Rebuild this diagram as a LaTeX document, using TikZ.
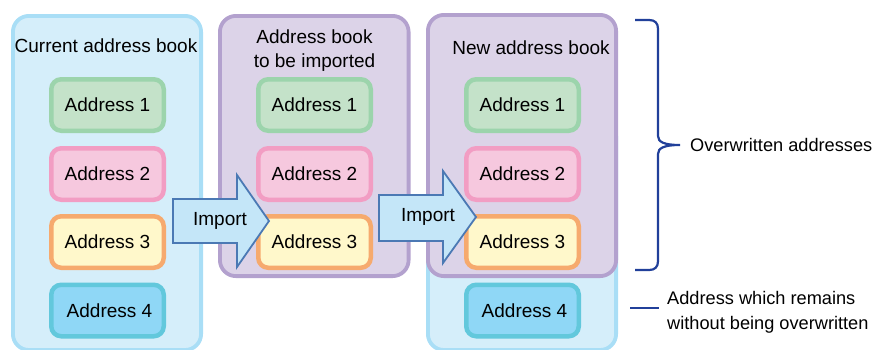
\documentclass[tikz,border=0pt]{standalone}
\usepackage{fontspec}
\setmainfont{Liberation Sans}
\begin{document}
\begin{tikzpicture}[x=1pt,y=-1pt,
  every node/.style={font=\fontsize{19}{24}\selectfont, inner sep=0pt},
  sidetext/.style={font=\fontsize{18.2}{24.5}\selectfont, anchor=west, align=left},
  bigblue/.style={draw=bluebd, fill=bluefill, line width=3.8pt, rounded corners=16pt},
  bigpurple/.style={draw=purpbd, fill=purpfill, line width=3.8pt, rounded corners=16pt},
  addr/.style={line width=4.5pt, rounded corners=10pt, minimum width=112.5pt, minimum height=51.5pt},
  aone/.style={addr, draw=aonebd, fill=aonefill},
  atwo/.style={addr, draw=atwobd, fill=atwofill},
  athree/.style={addr, draw=athreebd, fill=athreefill},
  afour/.style={addr, draw=afourbd, fill=afourfill},
  imparrow/.style={draw=arrbd, fill=arrfill, line width=1.8pt, line join=miter},
  bracestyle/.style={draw=bracecol, line width=2.2pt}
]
\definecolor{bluefill}{HTML}{D5EEFA}
\definecolor{bluebd}{HTML}{A9DEF6}
\definecolor{purpfill}{HTML}{DCD3E8}
\definecolor{purpbd}{HTML}{B3A1CE}
\definecolor{aonefill}{HTML}{C4E2C9}
\definecolor{aonebd}{HTML}{9CD4AC}
\definecolor{atwofill}{HTML}{F6C8DE}
\definecolor{atwobd}{HTML}{F29DC3}
\definecolor{athreefill}{HTML}{FFF8CB}
\definecolor{athreebd}{HTML}{F6AA6E}
\definecolor{afourfill}{HTML}{8FD7F6}
\definecolor{afourbd}{HTML}{62C8DC}
\definecolor{arrfill}{HTML}{C4E6F8}
\definecolor{arrbd}{HTML}{4B79B4}
\definecolor{bracecol}{HTML}{21409A}

\useasboundingbox (0,0) rectangle (877,349);

% big boxes
\draw[bigblue] (12.9,15.9) rectangle (201.1,350);
\draw[bigpurple] (219.9,15.9) rectangle (408.6,276.1);
\draw[bigblue] (427.9,120) rectangle (616.1,350);
\draw[bigpurple] (427.9,14.9) rectangle (616.1,276.1);

% titles
\node (tcur) at (106,46) {Current address book};
\node[align=center] (timp) at (314.5,50.5) {Address book\\to be imported};
\node (tnew) at (531,48) {New address book};

% left column
\node[aone]   (l1) at (107.5,105) {Address 1};
\node[atwo]   (l2) at (107.5,174) {Address 2};
\node[athree] (l3) at (107.5,242) {Address 3};
\node[afour]  (l4) at (107.5,310.5) {\hspace*{4pt}Address 4};

% middle column
\node[aone]   (m1) at (314.5,105) {Address 1};
\node[atwo]   (m2) at (314.5,174) {Address 2};
\node[athree] (m3) at (314.5,242) {Address 3};

% right column
\node[aone]   (r1) at (522.5,105) {Address 1};
\node[atwo]   (r2) at (522.5,174) {Address 2};
\node[athree] (r3) at (522.5,242) {Address 3};
\node[afour]  (r4) at (522.5,310.5) {\hspace*{4pt}Address 4};

% import arrows
\draw[imparrow] (173,199) -- (237,199) -- (237,175) -- (269,221) -- (237,267) -- (237,243) -- (173,243) -- cycle;
\node (imp1) at (220,221) {Import};
\draw[imparrow] (379,195) -- (443,195) -- (443,171) -- (476,217) -- (443,263) -- (443,241) -- (379,241) -- cycle;
\node (imp2) at (428,217) {Import};

% brace
\coordinate (bt) at (635,20);
\coordinate (bb) at (635,270);
\coordinate (btip) at (680,145);
\path[bracestyle] (bt) -- (649,20) .. controls (655,20) and (658,23) .. (658,29)
  -- (658,136) .. controls (658,142) and (664,145) .. (btip)
  .. controls (664,145) and (658,148) .. (658,154)
  -- (658,261) .. controls (658,267) and (655,270) .. (649,270) -- (bb);
\node[sidetext] (tover) at (690,145) {Overwritten addresses};

% remaining line
\coordinate (la) at (630,308);
\coordinate (lb) at (659,308);
\draw[bracestyle] (la) -- (lb);
\node[sidetext] (tremain) at (667,312.5) {Address which remains\\without being overwritten};
\end{tikzpicture}
\end{document}
